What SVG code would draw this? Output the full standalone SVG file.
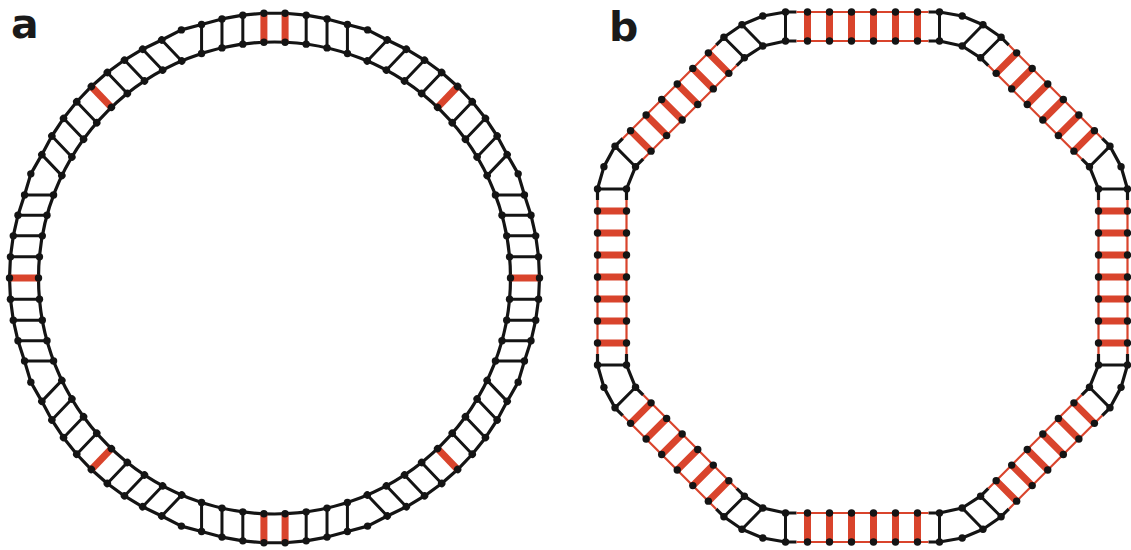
<svg xmlns="http://www.w3.org/2000/svg" xmlns:xlink="http://www.w3.org/1999/xlink" width="1131" height="550" viewBox="0 0 1131 550">
<style>
.rail{fill:none;stroke:#141414;stroke-width:3.2;stroke-linejoin:round}
.rrail{fill:none;stroke:#d9442c;stroke-width:2.2}
.rung{fill:none;stroke:#141414;stroke-width:3}
.redrung{fill:none;stroke:#d9442c;stroke-width:7}
.dot{fill:#141414}
.lbl{font-family:"DejaVu Sans","Open Sans",sans-serif;font-weight:bold;font-size:41px;fill:#1a1a1a}
</style>
<defs>
<g id="s9a">
<path class="rail" d="M-104.15,-243.67L-82.93,-249.95L-62.79,-256.5L-42.14,-261.21L-21.16,-264.05L0,-265L21.16,-264.05L42.14,-261.21L62.79,-256.5L82.93,-249.95L104.15,-243.67"/>
<path class="rung" d="M-82.93,-220.95V-249.95M-62.79,-227.5V-256.5M-42.14,-232.21V-261.21M-21.16,-235.05V-264.05M21.16,-235.05V-264.05M42.14,-232.21V-261.21M62.79,-227.5V-256.5M82.93,-220.95V-249.95"/>
<path class="redrung" d="M0,-236V-265"/>
<g class="dot">
<circle cx="-82.93" cy="-220.95" r="3.7"/><circle cx="-62.79" cy="-227.5" r="3.7"/><circle cx="-42.14" cy="-232.21" r="3.7"/><circle cx="-21.16" cy="-235.05" r="3.7"/><circle cx="0" cy="-236" r="3.7"/><circle cx="21.16" cy="-235.05" r="3.7"/><circle cx="42.14" cy="-232.21" r="3.7"/><circle cx="62.79" cy="-227.5" r="3.7"/><circle cx="82.93" cy="-220.95" r="3.7"/>
<circle cx="-82.93" cy="-249.95" r="3.7"/><circle cx="-62.79" cy="-256.5" r="3.7"/><circle cx="-42.14" cy="-261.21" r="3.7"/><circle cx="-21.16" cy="-264.05" r="3.7"/><circle cx="0" cy="-265" r="3.7"/><circle cx="21.16" cy="-264.05" r="3.7"/><circle cx="42.14" cy="-261.21" r="3.7"/><circle cx="62.79" cy="-256.5" r="3.7"/><circle cx="82.93" cy="-249.95" r="3.7"/>
</g>
</g>
<g id="s8a">
<path class="rail" d="M-93.11,-248.1L-72.93,-253.45L-52.52,-259.08L-31.68,-262.86L-10.59,-264.76L10.59,-264.76L31.68,-262.86L52.52,-259.08L72.93,-253.45L93.11,-248.1"/>
<path class="rung" d="M-72.93,-224.45V-253.45M-52.52,-230.08V-259.08M-31.68,-233.86V-262.86M31.68,-233.86V-262.86M52.52,-230.08V-259.08M72.93,-224.45V-253.45"/>
<path class="redrung" d="M-10.59,-235.76V-264.76M10.59,-235.76V-264.76"/>
<g class="dot">
<circle cx="-72.93" cy="-224.45" r="3.7"/><circle cx="-52.52" cy="-230.08" r="3.7"/><circle cx="-31.68" cy="-233.86" r="3.7"/><circle cx="-10.59" cy="-235.76" r="3.7"/><circle cx="10.59" cy="-235.76" r="3.7"/><circle cx="31.68" cy="-233.86" r="3.7"/><circle cx="52.52" cy="-230.08" r="3.7"/><circle cx="72.93" cy="-224.45" r="3.7"/>
<circle cx="-72.93" cy="-253.45" r="3.7"/><circle cx="-52.52" cy="-259.08" r="3.7"/><circle cx="-31.68" cy="-262.86" r="3.7"/><circle cx="-10.59" cy="-264.76" r="3.7"/><circle cx="10.59" cy="-264.76" r="3.7"/><circle cx="31.68" cy="-262.86" r="3.7"/><circle cx="52.52" cy="-259.08" r="3.7"/><circle cx="72.93" cy="-253.45" r="3.7"/>
</g>
</g>
</defs>
<rect width="1131" height="550" fill="#ffffff"/>
<g id="labels">
<text class="lbl" x="11" y="38">a</text>
<text class="lbl" x="609" y="41">b</text>
</g>
<g id="ring-a">
<circle class="rail" cx="274.5" cy="278" r="236"/>
<use xlink:href="#s8a" href="#s8a" transform="translate(274.5 278) rotate(0)"/>
<use xlink:href="#s9a" href="#s9a" transform="translate(274.5 278) rotate(43.714)"/>
<use xlink:href="#s9a" href="#s9a" transform="translate(274.5 278) rotate(90)"/>
<use xlink:href="#s9a" href="#s9a" transform="translate(274.5 278) rotate(136.286)"/>
<use xlink:href="#s8a" href="#s8a" transform="translate(274.5 278) rotate(180)"/>
<use xlink:href="#s9a" href="#s9a" transform="translate(274.5 278) rotate(223.714)"/>
<use xlink:href="#s9a" href="#s9a" transform="translate(274.5 278) rotate(270)"/>
<use xlink:href="#s9a" href="#s9a" transform="translate(274.5 278) rotate(316.286)"/>
<g class="dot">
<circle cx="367.61" cy="29.9" r="3.7"/><circle cx="518.17" cy="173.85" r="3.7"/><circle cx="518.17" cy="382.15" r="3.7"/><circle cx="367.61" cy="526.1" r="3.7"/><circle cx="181.39" cy="526.1" r="3.7"/><circle cx="30.83" cy="382.15" r="3.7"/><circle cx="30.83" cy="173.85" r="3.7"/><circle cx="181.39" cy="29.9" r="3.7"/>
</g>
</g>
<g id="octagon-b">
<path class="rail" d="M928.5,12L939.5,12L962.2,16L983,24.7L1001.1,37.29L1008.88,45.07
M1102.21,138.41L1109.99,146.18L1121.06,166.63L1127.5,189L1127.5,200
M1127.5,354L1127.5,365L1121.06,387.37L1109.99,407.82L1102.21,415.59
M1008.88,508.93L1001.1,516.71L983,529.3L962.2,538L939.5,542L928.5,542
M796.5,542L785.5,542L762.8,538L742,529.3L723.9,516.71L716.12,508.93
M622.79,415.59L615.01,407.82L603.94,387.37L597.5,365L597.5,354
M597.5,200L597.5,189L603.94,166.63L615.01,146.18L622.79,138.41
M716.12,45.07L723.9,37.29L742,24.7L762.8,16L785.5,12L796.5,12
M928.5,41L939.5,41L962.2,46L980.59,57.79L988.37,65.57
M1081.71,158.91L1089.48,166.69L1098.5,189L1098.5,200
M1098.5,354L1098.5,365L1089.48,387.31L1081.71,395.09
M988.37,488.43L980.59,496.21L962.2,508L939.5,513L928.5,513
M796.5,513L785.5,513L762.8,508L744.41,496.21L736.63,488.43
M643.29,395.09L635.52,387.31L626.5,365L626.5,354
M626.5,200L626.5,189L635.52,166.69L643.29,158.91
M736.63,65.57L744.41,57.79L762.8,46L785.5,41L796.5,41"/>
<path class="rrail" d="M1008.88,45.07L1102.21,138.41M1127.5,200L1127.5,354M1102.21,415.59L1008.88,508.93M928.5,542L796.5,542M716.12,508.93L622.79,415.59M597.5,354L597.5,200M622.79,138.41L716.12,45.07M796.5,12L928.5,12
M988.37,65.57L1081.71,158.91M1098.5,200L1098.5,354M1081.71,395.09L988.37,488.43M928.5,513L796.5,513M736.63,488.43L643.29,395.09M626.5,354L626.5,200M643.29,158.91L736.63,65.57M796.5,41L928.5,41"/>
<path class="rung" d="M785.5,41V12M939.5,41V12M785.5,513V542M939.5,513V542M1098.5,189H1127.5M1098.5,365H1127.5M626.5,189H597.5M626.5,365H597.5
M962.2,46L983,24.7M980.59,57.79L1001.1,37.29M1089.48,166.69L1109.99,146.18
M962.2,508L983,529.3M980.59,496.21L1001.1,516.71M1089.48,387.31L1109.99,407.82
M762.8,46L742,24.7M744.41,57.79L723.9,37.29M635.52,166.69L615.01,146.18
M762.8,508L742,529.3M744.41,496.21L723.9,516.71M635.52,387.31L615.01,407.82"/>
<path class="redrung" d="M807.5,41V12M829.5,41V12M851.5,41V12M873.5,41V12M895.5,41V12M917.5,41V12
M807.5,513V542M829.5,513V542M851.5,513V542M873.5,513V542M895.5,513V542M917.5,513V542
M1098.5,211H1127.5M1098.5,233H1127.5M1098.5,255H1127.5M1098.5,277H1127.5M1098.5,299H1127.5M1098.5,321H1127.5M1098.5,343H1127.5
M626.5,211H597.5M626.5,233H597.5M626.5,255H597.5M626.5,277H597.5M626.5,299H597.5M626.5,321H597.5M626.5,343H597.5
M996.15,73.35L1016.65,52.84M1011.7,88.91L1032.21,68.4M1027.26,104.46L1047.76,83.96M1042.82,120.02L1063.32,99.51M1058.37,135.58L1078.88,115.07M1073.93,151.13L1094.43,130.63
M996.15,480.65L1016.65,501.16M1011.7,465.09L1032.21,485.6M1027.26,449.54L1047.76,470.04M1042.82,433.98L1063.32,454.49M1058.37,418.42L1078.88,438.93M1073.93,402.87L1094.43,423.37
M728.85,73.35L708.35,52.84M713.3,88.91L692.79,68.4M697.74,104.46L677.24,83.96M682.18,120.02L661.68,99.51M666.63,135.58L646.12,115.07M651.07,151.13L630.57,130.63
M728.85,480.65L708.35,501.16M713.3,465.09L692.79,485.6M697.74,449.54L677.24,470.04M682.18,433.98L661.68,454.49M666.63,418.42L646.12,438.93M651.07,402.87L630.57,423.37"/>
<g class="dot">
<circle cx="785.5" cy="41" r="3.7"/><circle cx="807.5" cy="41" r="3.7"/><circle cx="829.5" cy="41" r="3.7"/><circle cx="851.5" cy="41" r="3.7"/><circle cx="873.5" cy="41" r="3.7"/><circle cx="895.5" cy="41" r="3.7"/><circle cx="917.5" cy="41" r="3.7"/><circle cx="939.5" cy="41" r="3.7"/>
<circle cx="785.5" cy="12" r="3.7"/><circle cx="807.5" cy="12" r="3.7"/><circle cx="829.5" cy="12" r="3.7"/><circle cx="851.5" cy="12" r="3.7"/><circle cx="873.5" cy="12" r="3.7"/><circle cx="895.5" cy="12" r="3.7"/><circle cx="917.5" cy="12" r="3.7"/><circle cx="939.5" cy="12" r="3.7"/>
<circle cx="785.5" cy="513" r="3.7"/><circle cx="807.5" cy="513" r="3.7"/><circle cx="829.5" cy="513" r="3.7"/><circle cx="851.5" cy="513" r="3.7"/><circle cx="873.5" cy="513" r="3.7"/><circle cx="895.5" cy="513" r="3.7"/><circle cx="917.5" cy="513" r="3.7"/><circle cx="939.5" cy="513" r="3.7"/>
<circle cx="785.5" cy="542" r="3.7"/><circle cx="807.5" cy="542" r="3.7"/><circle cx="829.5" cy="542" r="3.7"/><circle cx="851.5" cy="542" r="3.7"/><circle cx="873.5" cy="542" r="3.7"/><circle cx="895.5" cy="542" r="3.7"/><circle cx="917.5" cy="542" r="3.7"/><circle cx="939.5" cy="542" r="3.7"/>
<circle cx="1098.5" cy="189" r="3.7"/><circle cx="1098.5" cy="211" r="3.7"/><circle cx="1098.5" cy="233" r="3.7"/><circle cx="1098.5" cy="255" r="3.7"/><circle cx="1098.5" cy="277" r="3.7"/><circle cx="1098.5" cy="299" r="3.7"/><circle cx="1098.5" cy="321" r="3.7"/><circle cx="1098.5" cy="343" r="3.7"/><circle cx="1098.5" cy="365" r="3.7"/>
<circle cx="1127.5" cy="189" r="3.7"/><circle cx="1127.5" cy="211" r="3.7"/><circle cx="1127.5" cy="233" r="3.7"/><circle cx="1127.5" cy="255" r="3.7"/><circle cx="1127.5" cy="277" r="3.7"/><circle cx="1127.5" cy="299" r="3.7"/><circle cx="1127.5" cy="321" r="3.7"/><circle cx="1127.5" cy="343" r="3.7"/><circle cx="1127.5" cy="365" r="3.7"/>
<circle cx="626.5" cy="189" r="3.7"/><circle cx="626.5" cy="211" r="3.7"/><circle cx="626.5" cy="233" r="3.7"/><circle cx="626.5" cy="255" r="3.7"/><circle cx="626.5" cy="277" r="3.7"/><circle cx="626.5" cy="299" r="3.7"/><circle cx="626.5" cy="321" r="3.7"/><circle cx="626.5" cy="343" r="3.7"/><circle cx="626.5" cy="365" r="3.7"/>
<circle cx="597.5" cy="189" r="3.7"/><circle cx="597.5" cy="211" r="3.7"/><circle cx="597.5" cy="233" r="3.7"/><circle cx="597.5" cy="255" r="3.7"/><circle cx="597.5" cy="277" r="3.7"/><circle cx="597.5" cy="299" r="3.7"/><circle cx="597.5" cy="321" r="3.7"/><circle cx="597.5" cy="343" r="3.7"/><circle cx="597.5" cy="365" r="3.7"/>
<circle cx="962.2" cy="46" r="3.7"/><circle cx="980.59" cy="57.79" r="3.7"/><circle cx="996.15" cy="73.35" r="3.7"/><circle cx="1011.7" cy="88.91" r="3.7"/><circle cx="1027.26" cy="104.46" r="3.7"/><circle cx="1042.82" cy="120.02" r="3.7"/><circle cx="1058.37" cy="135.58" r="3.7"/><circle cx="1073.93" cy="151.13" r="3.7"/><circle cx="1089.48" cy="166.69" r="3.7"/>
<circle cx="983" cy="24.7" r="3.7"/><circle cx="1001.1" cy="37.29" r="3.7"/><circle cx="1016.65" cy="52.84" r="3.7"/><circle cx="1032.21" cy="68.4" r="3.7"/><circle cx="1047.76" cy="83.96" r="3.7"/><circle cx="1063.32" cy="99.51" r="3.7"/><circle cx="1078.88" cy="115.07" r="3.7"/><circle cx="1094.43" cy="130.63" r="3.7"/><circle cx="1109.99" cy="146.18" r="3.7"/>
<circle cx="962.2" cy="508" r="3.7"/><circle cx="980.59" cy="496.21" r="3.7"/><circle cx="996.15" cy="480.65" r="3.7"/><circle cx="1011.7" cy="465.09" r="3.7"/><circle cx="1027.26" cy="449.54" r="3.7"/><circle cx="1042.82" cy="433.98" r="3.7"/><circle cx="1058.37" cy="418.42" r="3.7"/><circle cx="1073.93" cy="402.87" r="3.7"/><circle cx="1089.48" cy="387.31" r="3.7"/>
<circle cx="983" cy="529.3" r="3.7"/><circle cx="1001.1" cy="516.71" r="3.7"/><circle cx="1016.65" cy="501.16" r="3.7"/><circle cx="1032.21" cy="485.6" r="3.7"/><circle cx="1047.76" cy="470.04" r="3.7"/><circle cx="1063.32" cy="454.49" r="3.7"/><circle cx="1078.88" cy="438.93" r="3.7"/><circle cx="1094.43" cy="423.37" r="3.7"/><circle cx="1109.99" cy="407.82" r="3.7"/>
<circle cx="762.8" cy="46" r="3.7"/><circle cx="744.41" cy="57.79" r="3.7"/><circle cx="728.85" cy="73.35" r="3.7"/><circle cx="713.3" cy="88.91" r="3.7"/><circle cx="697.74" cy="104.46" r="3.7"/><circle cx="682.18" cy="120.02" r="3.7"/><circle cx="666.63" cy="135.58" r="3.7"/><circle cx="651.07" cy="151.13" r="3.7"/><circle cx="635.52" cy="166.69" r="3.7"/>
<circle cx="742" cy="24.7" r="3.7"/><circle cx="723.9" cy="37.29" r="3.7"/><circle cx="708.35" cy="52.84" r="3.7"/><circle cx="692.79" cy="68.4" r="3.7"/><circle cx="677.24" cy="83.96" r="3.7"/><circle cx="661.68" cy="99.51" r="3.7"/><circle cx="646.12" cy="115.07" r="3.7"/><circle cx="630.57" cy="130.63" r="3.7"/><circle cx="615.01" cy="146.18" r="3.7"/>
<circle cx="762.8" cy="508" r="3.7"/><circle cx="744.41" cy="496.21" r="3.7"/><circle cx="728.85" cy="480.65" r="3.7"/><circle cx="713.3" cy="465.09" r="3.7"/><circle cx="697.74" cy="449.54" r="3.7"/><circle cx="682.18" cy="433.98" r="3.7"/><circle cx="666.63" cy="418.42" r="3.7"/><circle cx="651.07" cy="402.87" r="3.7"/><circle cx="635.52" cy="387.31" r="3.7"/>
<circle cx="742" cy="529.3" r="3.7"/><circle cx="723.9" cy="516.71" r="3.7"/><circle cx="708.35" cy="501.16" r="3.7"/><circle cx="692.79" cy="485.6" r="3.7"/><circle cx="677.24" cy="470.04" r="3.7"/><circle cx="661.68" cy="454.49" r="3.7"/><circle cx="646.12" cy="438.93" r="3.7"/><circle cx="630.57" cy="423.37" r="3.7"/><circle cx="615.01" cy="407.82" r="3.7"/>
<circle cx="962.2" cy="16" r="3.7"/><circle cx="1121.06" cy="166.63" r="3.7"/><circle cx="1121.06" cy="387.37" r="3.7"/><circle cx="962.2" cy="538" r="3.7"/><circle cx="762.8" cy="538" r="3.7"/><circle cx="603.94" cy="387.37" r="3.7"/><circle cx="603.94" cy="166.63" r="3.7"/><circle cx="762.8" cy="16" r="3.7"/>
</g>
</g>
</svg>
